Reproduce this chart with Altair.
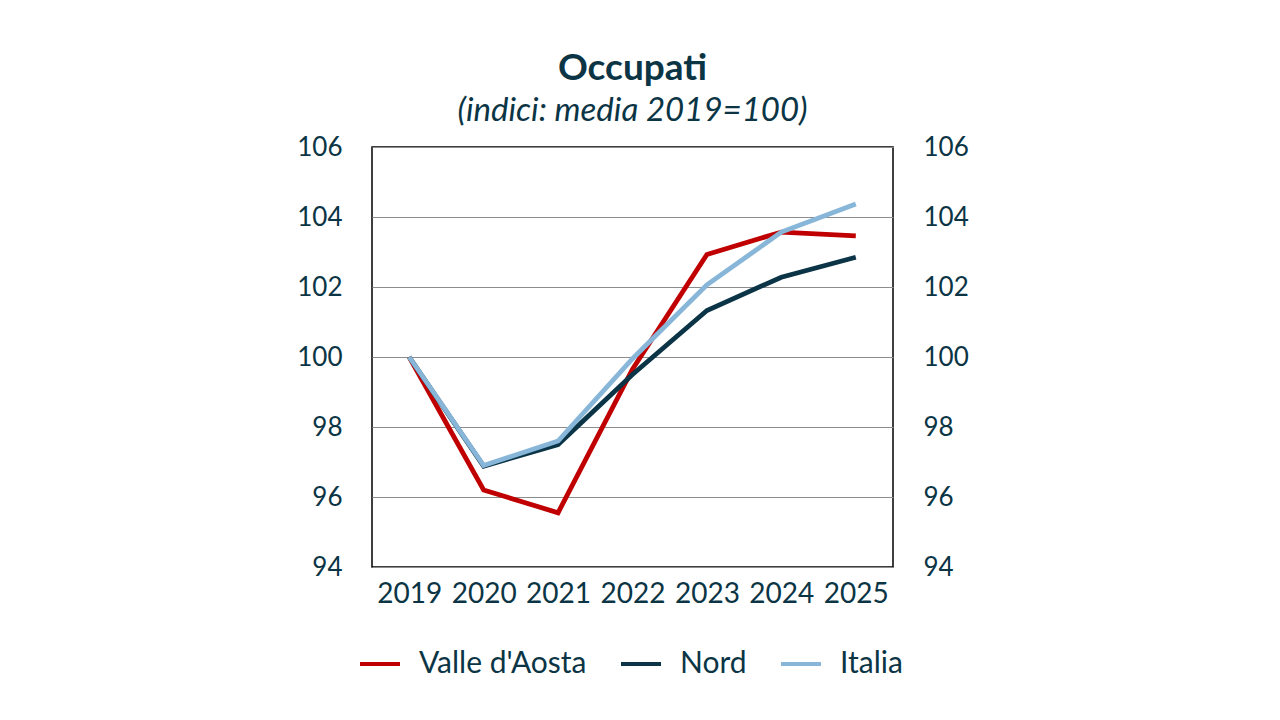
import altair as alt
import pandas as pd

# Employment indices (2019 average = 100)
years = ["2019", "2020", "2021", "2022", "2023", "2024", "2025"]
valle_daosta = [100.0, 96.2, 95.55, 99.65, 102.93, 103.57, 103.46]
nord = [100.0, 96.88, 97.5, 99.5, 101.33, 102.28, 102.85]
italia = [100.0, 96.9, 97.6, 99.95, 102.06, 103.57, 104.37]

series_names = ["Valle d'Aosta", "Nord", "Italia"]
series_colors = ["#c00000", "#0b3547", "#87b6d9"]
y_ticks = [94, 96, 98, 100, 102, 104, 106]

rows = []
for name, vals in zip(series_names, [valle_daosta, nord, italia]):
    for yr, v in zip(years, vals):
        rows.append({"anno": yr, "serie": name, "valore": v})
df = pd.DataFrame(rows)

FONT = "Lato"
TEXT = "#0b3545"

x_enc = alt.X(
    "anno:O",
    scale=alt.Scale(type="point", padding=0.5),
    axis=alt.Axis(
        title=None, labelAngle=0, labelFontSize=28, labelColor=TEXT, labelFont=FONT,
        ticks=False, domain=False, labelPadding=13, grid=False,
    ),
)
y_scale = alt.Scale(domain=[94, 106], nice=False, zero=False)

lines = alt.Chart(df).mark_line(strokeWidth=4.8, strokeCap="butt").encode(
    x=x_enc,
    y=alt.Y(
        "valore:Q",
        scale=y_scale,
        axis=alt.Axis(
            orient="left", title=None, values=y_ticks, labelFontSize=26,
            labelColor=TEXT, labelFont=FONT, ticks=False, domain=False,
            labelPadding=30, grid=True, gridColor="#8c8c8c", gridWidth=1,
        ),
    ),
    color=alt.Color(
        "serie:N",
        scale=alt.Scale(domain=series_names, range=series_colors),
        sort=series_names,
        legend=alt.Legend(
            title=None, orient="none", direction="horizontal",
            legendX=-14, legendY=495, symbolType="stroke", symbolSize=1600,
            symbolStrokeWidth=4, labelFontSize=30, labelColor=TEXT,
            labelFont=FONT, labelOffset=17, columnPadding=26, labelLimit=400,
        ),
    ),
    order=alt.Order("serie_ord:Q"),
).transform_calculate(
    serie_ord="indexof(['Valle d\\'Aosta','Nord','Italia'], datum.serie)"
)

# Mirror of the value scale on the right-hand side
right_axis = alt.Chart(df).mark_line(opacity=0).encode(
    x=x_enc,
    y=alt.Y(
        "valore:Q",
        scale=y_scale,
        axis=alt.Axis(
            orient="right", title=None, values=y_ticks, labelFontSize=26,
            labelColor=TEXT, labelFont=FONT, ticks=False, domain=False,
            labelPadding=30, grid=False,
        ),
    ),
    detail="serie:N",
)

chart = (
    alt.layer(lines, right_axis)
    .resolve_axis(y="independent")
    .properties(
        width=521,
        height=420,
        autosize=alt.AutoSizeParams(type="none"),
        padding={"left": 372, "top": 147, "right": 387, "bottom": 153},
        background="white",
        title=alt.TitleParams(
            text="Occupati",
            subtitle="(indici: media 2019=100)",
            font=FONT, fontSize=37, fontWeight="bold", color=TEXT,
            subtitleFont=FONT, subtitleFontSize=33, subtitleFontStyle="italic",
            subtitleColor=TEXT, subtitlePadding=7, anchor="middle", offset=5,
        ),
    )
    .configure_view(stroke="#000000", strokeWidth=1.5)
)

chart.save("out.html", embed_options={"renderer": "svg", "actions": False})
